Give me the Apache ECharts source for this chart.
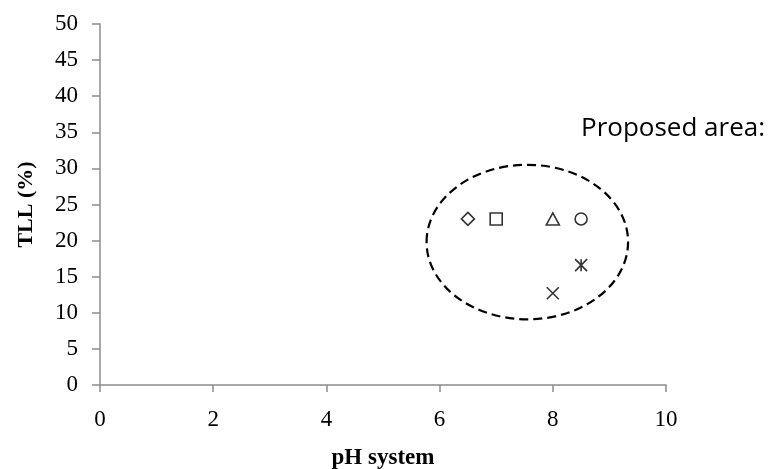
<!DOCTYPE html>
<html>
<head>
<meta charset="utf-8">
<script src="https://cdn.jsdelivr.net/npm/echarts@6/dist/echarts.min.js"></script>
<style>
  html, body { margin: 0; padding: 0; background: #fff; }
  #chart { width: 776px; height: 469px; }
</style>
</head>
<body>
<div id="chart"></div>
<script>
// Measured samples: pH of the system vs. tie-line length
const diamondPts  = [[6.5, 23]];
const squarePts   = [[7.0, 23]];
const trianglePts = [[8.0, 23]];
const circlePts   = [[8.5, 23]];
const crossPts    = [[8.0, 12.7]];
const starPts     = [[8.5, 16.6]];

// Proposed operating region (ellipse centre and half-axes, in data units)
const areaCenter = [7.55, 19.8];
const areaRadius = [1.78, 10.7];
const areaLabel = 'Proposed area:';

const xTicks = [0, 2, 4, 6, 8, 10];
const yTicks = [0, 5, 10, 15, 20, 25, 30, 35, 40, 45, 50];

const chart = echarts.init(document.getElementById('chart'));

const serif = '"Liberation Serif", "Times New Roman", serif';
const axisGray = '#8c8c8c';

function markerSeries(name, data, symbol, size) {
  return {
    name: name,
    type: 'scatter',
    data: data,
    symbol: symbol,
    symbolSize: size,
    itemStyle: { color: 'rgba(0,0,0,0)', borderColor: '#000', borderWidth: 1.6 },
    emphasis: { disabled: true },
    z: 5
  };
}

chart.setOption({
  animation: false,
  backgroundColor: '#fff',
  grid: { left: 100, right: 110, top: 24, bottom: 84, containLabel: false, outerBoundsMode: 'none' },
  xAxis: {
    type: 'value',
    min: xTicks[0],
    max: xTicks[xTicks.length - 1],
    interval: 2,
    name: 'pH system',
    nameLocation: 'middle',
    nameGap: 62,
    nameTextStyle: { fontFamily: serif, fontWeight: 'bold', fontSize: 23, color: '#000' },
    axisLine: { show: true, lineStyle: { color: axisGray, width: 1.5 } },
    axisTick: { show: true, length: 7, inside: false, lineStyle: { color: axisGray, width: 1.5 } },
    axisLabel: { fontFamily: serif, fontSize: 23, color: '#000', margin: 23 },
    splitLine: { show: false }
  },
  yAxis: {
    type: 'value',
    min: yTicks[0],
    max: yTicks[yTicks.length - 1],
    interval: 5,
    name: 'TLL (%)',
    nameLocation: 'middle',
    nameGap: 63,
    nameRotate: 90,
    nameTextStyle: { fontFamily: serif, fontWeight: 'bold', fontSize: 22, color: '#000' },
    axisLine: { show: true, lineStyle: { color: axisGray, width: 1.5 } },
    axisTick: { show: true, length: 8, inside: false, lineStyle: { color: axisGray, width: 1.5 } },
    axisLabel: { fontFamily: serif, fontSize: 23, color: '#000', margin: 22 },
    splitLine: { show: false }
  },
  graphic: [{
    type: 'text',
    left: 581,
    top: 116,
    style: {
      text: areaLabel,
      font: '26px "Open Sans", "Noto Sans", sans-serif',
      fill: '#000'
    }
  }],
  series: [
    {
      name: 'area',
      type: 'custom',
      data: [[areaCenter[0], areaCenter[1], areaRadius[0], areaRadius[1]]],
      clip: false,
      renderItem: function (params, api) {
        const c = api.coord([api.value(0), api.value(1)]);
        const s = api.size([api.value(2), api.value(3)]);
        return {
          type: 'ellipse',
          shape: { cx: c[0], cy: c[1], rx: s[0], ry: s[1] },
          style: { fill: 'none', stroke: '#000', lineWidth: 2.2, lineDash: [9, 5] }
        };
      },
      silent: true,
      z: 3
    },
    markerSeries('diamond', diamondPts, 'diamond', [13, 13]),
    markerSeries('square', squarePts, 'rect', 12),
    markerSeries('triangle', trianglePts, 'triangle', [13, 12]),
    markerSeries('circle', circlePts, 'circle', 12),
    markerSeries('cross', crossPts, 'path://M0,0L10,10M10,0L0,10', 12),
    markerSeries('star', starPts, 'path://M0,0L10,10M10,0L0,10M5,0L5,10', 12)
  ]
});
</script>
</body>
</html>
